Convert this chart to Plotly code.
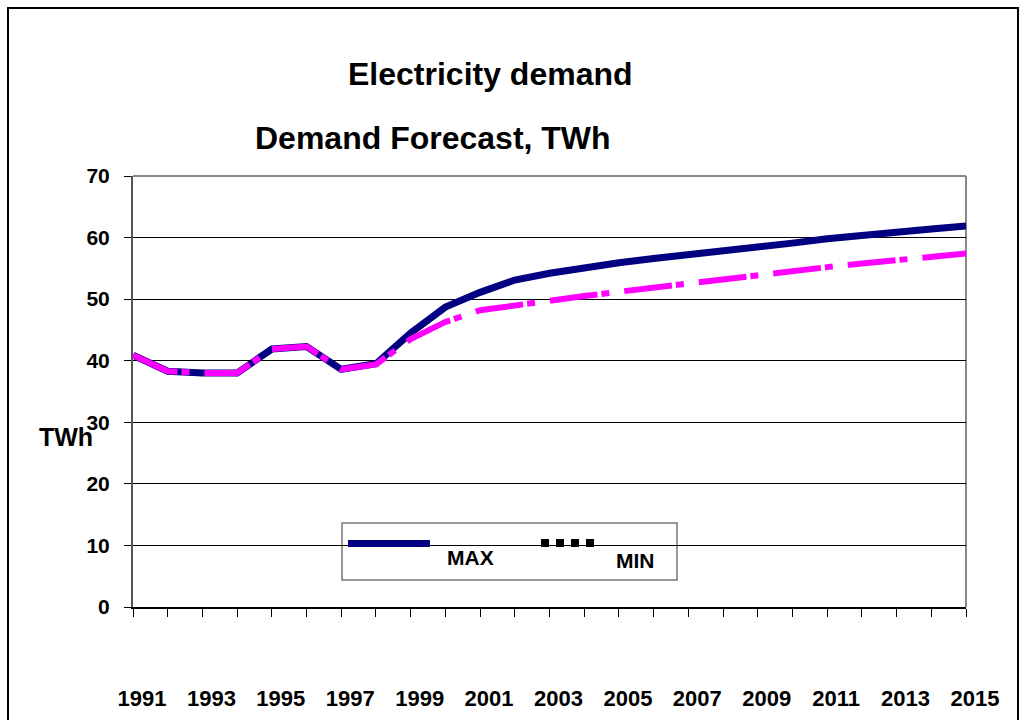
import plotly.graph_objects as go

years = list(range(1991, 2016))
max_twh = [40.9, 38.3, 38.0, 38.0, 41.9, 42.3, 38.6, 39.5, 44.5, 48.7, 51.1, 53.1, 54.2,
           55.1, 55.9, 56.6, 57.2, 57.7, 58.5, 59.1, 59.8, 60.4, 60.9, 61.4, 61.9]
min_twh = [40.9, 38.3, 38.0, 38.0, 41.9, 42.3, 38.6, 39.4, 43.5, 46.3, 48.2, 49.0, 49.9,
           50.5, 51.2, 51.9, 52.5, 53.1, 53.8, 54.5, 55.2, 55.8, 56.4, 56.9, 57.4]
tick_labels = [str(y) if (y - 1991) % 2 == 0 else "" for y in years]
y_ticks = [0, 10, 20, 30, 40, 50, 60, 70]

FONT = "Liberation Sans, Arial, sans-serif"
NAVY = "#000080"
PINK = "#FF00FF"

fig = go.Figure()
fig.add_trace(go.Scatter(x=years, y=max_twh, name="MAX", mode="lines",
                         line=dict(color=NAVY, width=7), showlegend=False))
fig.add_trace(go.Scatter(x=years, y=min_twh, name="MIN", mode="lines",
                         line=dict(color=PINK, width=6, dash="48px,4px,8px,15px"),
                         showlegend=False))

W, H = 1026, 720
L, R, T, B = 133, 60, 176, 113
pw, ph = W - L - R, H - T - B

def px(x):
    return (x - L) / pw

def py(y):
    return (H - B - y) / ph

shapes = [
    # outer frame
    dict(type="rect", xref="paper", yref="paper", x0=px(8), x1=px(1018), y0=py(730), y1=py(8),
         line=dict(color="black", width=2), fillcolor="rgba(0,0,0,0)", layer="below"),
    # top and right plot borders
    dict(type="line", xref="paper", yref="paper", x0=0, x1=1, y0=1, y1=1,
         line=dict(color="#888888", width=2), layer="between"),
    dict(type="line", xref="paper", yref="paper", x0=1, x1=1, y0=0, y1=1,
         line=dict(color="#888888", width=2), layer="between"),
    # legend box
    dict(type="rect", xref="paper", yref="paper", x0=px(342), x1=px(677), y0=py(580), y1=py(523),
         line=dict(color="#777777", width=1.5), fillcolor="white", layer="between"),
    dict(type="line", xref="paper", yref="paper", x0=px(348), x1=px(430), y0=py(543.5), y1=py(543.5),
         line=dict(color=NAVY, width=7), layer="above"),
    dict(type="line", xref="paper", yref="paper", x0=px(541), x1=px(594), y0=py(543), y1=py(543),
         line=dict(color="black", width=8, dash="8px,7px"), layer="above"),
]

annotations = [
    dict(text="Electricity demand", x=px(490), y=py(74), xref="paper", yref="paper",
         showarrow=False, xanchor="center", yanchor="middle",
         font=dict(family=FONT, size=32, color="black", weight="bold")),
    dict(text="Demand Forecast, TWh", x=px(433), y=py(138), xref="paper", yref="paper",
         showarrow=False, xanchor="center", yanchor="middle",
         font=dict(family=FONT, size=32, color="black", weight="bold")),
    dict(text="TWh", x=px(66), y=py(437), xref="paper", yref="paper",
         showarrow=False, xanchor="center", yanchor="middle",
         font=dict(family=FONT, size=25, color="black", weight="bold")),
    dict(text="MAX", x=px(470), y=py(557), xref="paper", yref="paper",
         showarrow=False, xanchor="center", yanchor="middle",
         font=dict(family=FONT, size=21, color="black", weight="bold")),
    dict(text="MIN", x=px(635), y=py(560), xref="paper", yref="paper",
         showarrow=False, xanchor="center", yanchor="middle",
         font=dict(family=FONT, size=21, color="black", weight="bold")),
]

fig.update_layout(
    width=W, height=H,
    margin=dict(l=L, r=R, t=T, b=B, pad=0),
    paper_bgcolor="white", plot_bgcolor="white",
    showlegend=False,
    shapes=shapes, annotations=annotations,
    xaxis=dict(range=[1991, 2015], tickmode="array", tickvals=years, ticktext=tick_labels,
               automargin=False,
               showgrid=False, zeroline=False, showline=True, linecolor="black", linewidth=2,
               ticks="outside", ticklen=8, tickcolor="black", tickwidth=1,
               ticklabelstandoff=63, ticklabelshift=9,
               tickfont=dict(family=FONT, size=22, color="black", weight="bold")),
    xaxis2=dict(range=[1991, 2015], overlaying="x", anchor="y", side="bottom",
                automargin=False,
                tickmode="array", tickvals=years, showticklabels=False,
                showgrid=False, zeroline=False, showline=False,
                ticks="inside", ticklen=7, tickcolor="black", tickwidth=1),
    yaxis=dict(range=[0, 70], tickmode="array", tickvals=y_ticks,
               automargin=False,
               showgrid=True, gridcolor="black", gridwidth=1, zeroline=False,
               showline=True, linecolor="#555555", linewidth=2,
               ticks="outside", ticklen=7, tickcolor="black", tickwidth=1,
               ticklabelstandoff=10,
               tickfont=dict(family=FONT, size=21, color="black", weight="bold")),
)

fig.write_html("out.html", config={"displayModeBar": False},
               post_script="document.body.style.margin='0';")
